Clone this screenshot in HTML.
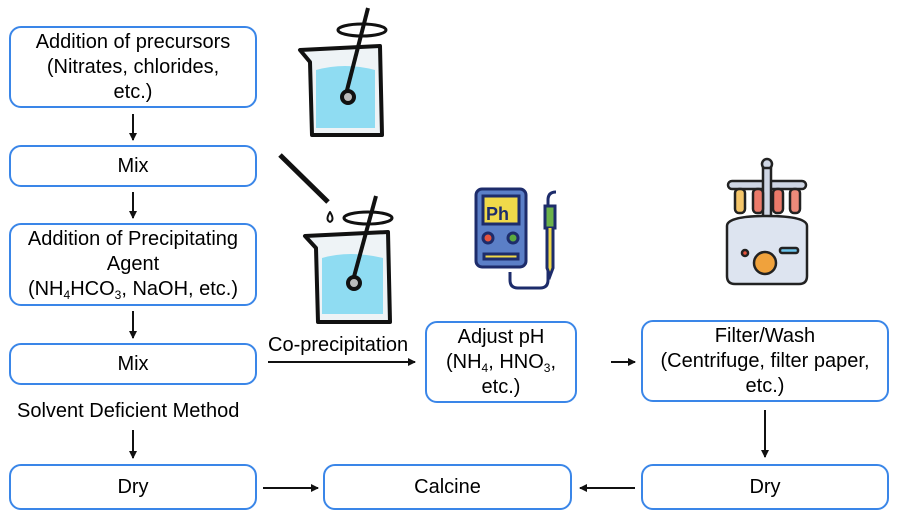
<!DOCTYPE html>
<html><head><meta charset="utf-8"><style>
body{margin:0;width:898px;height:517px;background:#fff;position:relative;overflow:hidden;font-family:"Liberation Sans",Arial,sans-serif;color:#000}
.b{position:absolute;border:2.5px solid #3a86e8;border-radius:12px;box-sizing:border-box;display:flex;align-items:center;justify-content:center;text-align:center;font-size:20px;line-height:25px;background:#fff;white-space:nowrap}
.b>span{display:block}
.t{position:absolute;font-size:20px}
sub{font-size:12px;vertical-align:-4px;line-height:0}
</style></head><body>
<svg width="898" height="517" style="position:absolute;left:0;top:0">
<defs><marker id="a" markerWidth="8" markerHeight="8" refX="7" refY="4" orient="auto" markerUnits="userSpaceOnUse"><path d="M0,0L8,4L0,8z" fill="#111"/></marker></defs>
<g stroke="#111" stroke-width="2" marker-end="url(#a)">
<line x1="133" y1="114" x2="133" y2="140"/>
<line x1="133" y1="192" x2="133" y2="218"/>
<line x1="133" y1="311" x2="133" y2="338"/>
<line x1="133" y1="430" x2="133" y2="458"/>
<line x1="268" y1="362" x2="415" y2="362"/>
<line x1="611" y1="362" x2="635" y2="362"/>
<line x1="765" y1="410" x2="765" y2="457"/>
<line x1="263" y1="488" x2="318" y2="488"/>
<line x1="635" y1="488" x2="580" y2="488"/>
</g>
<g stroke="#111" stroke-width="4" stroke-linejoin="round">
<path d="M300 50 L380 46 L382 135 L312 135 L310 62 Z" fill="#eef3f6"/>
<path d="M316 70 Q345 62 375 70 L375 128 L316 128 Z" fill="#8fdcf2" stroke-width="0"/>
<line x1="368" y1="8" x2="345" y2="98"/>
<circle cx="348" cy="97" r="6" fill="#bbb"/>
<ellipse cx="362" cy="30" rx="24" ry="6" fill="none" stroke-width="3"/>
</g>
<g stroke="#111" stroke-width="4" stroke-linejoin="round">
<path d="M305 236 L388 232 L390 322 L318 322 L316 248 Z" fill="#eef3f6"/>
<path d="M322 258 Q350 250 383 258 L383 314 L322 314 Z" fill="#8fdcf2" stroke-width="0"/>
<line x1="376" y1="196" x2="352" y2="284"/>
<circle cx="354" cy="283" r="6" fill="#bbb"/>
<ellipse cx="368" cy="218" rx="24" ry="6" fill="none" stroke-width="3"/>
<line x1="280" y1="155" x2="328" y2="202" stroke-width="5"/>
<path d="M330 212 q-5 8 0 10 q5 -2 0 -10z" fill="#fff" stroke-width="2"/>
</g>
<g stroke="#1d2c6b" stroke-width="3">
<rect x="476" y="189" width="50" height="78" rx="6" fill="#5b7fc7"/>
<rect x="483" y="196" width="36" height="28" fill="#f0d94a"/>
<circle cx="488" cy="238" r="5" fill="#e5533d"/><circle cx="513" cy="238" r="5" fill="#5caa3f"/>
<rect x="484" y="254" width="34" height="5" fill="#f0d94a"/>
<path d="M510 272 v8 q0 8 8 8 h22 q8 0 8-8 v-80 q0-8 8-8" fill="none"/>
<rect x="545" y="206" width="10" height="22" fill="#6cb24a"/>
<path d="M547 228 v40 l3 8 l3-8 v-40" fill="#f0d94a"/>
</g>
<text x="486" y="220" font-size="18" font-weight="bold" fill="#1d2c6b" font-family="Liberation Sans">Ph</text>
<g stroke="#222" stroke-width="2.5">
<rect x="728" y="181" width="78" height="8" rx="4" fill="#cfd6e4"/>
<circle cx="767" cy="164" r="5" fill="#cfd6e4"/>
<rect x="763" y="168" width="8" height="60" fill="#cfd6e4"/>
<rect x="735" y="189" width="10" height="24" rx="4" fill="#f5c66a"/>
<rect x="753" y="189" width="10" height="24" rx="4" fill="#ec7a6a"/>
<rect x="773" y="189" width="10" height="24" rx="4" fill="#ec7a6a"/>
<rect x="790" y="189" width="10" height="24" rx="4" fill="#ec8a7a"/>
<path d="M727 226 q0-10 40-10 q40 0 40 10 v50 q0 8-8 8 h-64 q-8 0-8-8z" fill="#dde4f0"/>
<circle cx="765" cy="263" r="11" fill="#f0a23c"/>
<rect x="780" y="248" width="18" height="5" rx="2" fill="#6cc5ec"/>
<circle cx="745" cy="253" r="3" fill="#e5533d"/>
</g>
</svg>
<div class="b" style="left:9px;top:26px;width:248px;height:82px"><span>Addition of precursors<br>(Nitrates, chlorides,<br>etc.)</span></div>
<div class="b" style="left:9px;top:145px;width:248px;height:42px"><span>Mix</span></div>
<div class="b" style="left:9px;top:223px;width:248px;height:83px"><span>Addition of Precipitating<br>Agent<br>(NH<sub>4</sub>HCO<sub>3</sub>, NaOH, etc.)</span></div>
<div class="b" style="left:9px;top:343px;width:248px;height:42px"><span>Mix</span></div>
<div class="t" style="left:17px;top:400px">Solvent Deficient Method</div>
<div class="t" style="left:268px;top:334px">Co-precipitation</div>
<div class="b" style="left:425px;top:321px;width:152px;height:82px"><span>Adjust pH<br>(NH<sub>4</sub>, HNO<sub>3</sub>,<br>etc.)</span></div>
<div class="b" style="left:641px;top:320px;width:248px;height:82px"><span>Filter/Wash<br>(Centrifuge, filter paper,<br>etc.)</span></div>
<div class="b" style="left:9px;top:464px;width:248px;height:46px"><span>Dry</span></div>
<div class="b" style="left:323px;top:464px;width:249px;height:46px"><span>Calcine</span></div>
<div class="b" style="left:641px;top:464px;width:248px;height:46px"><span>Dry</span></div>
</body></html>
